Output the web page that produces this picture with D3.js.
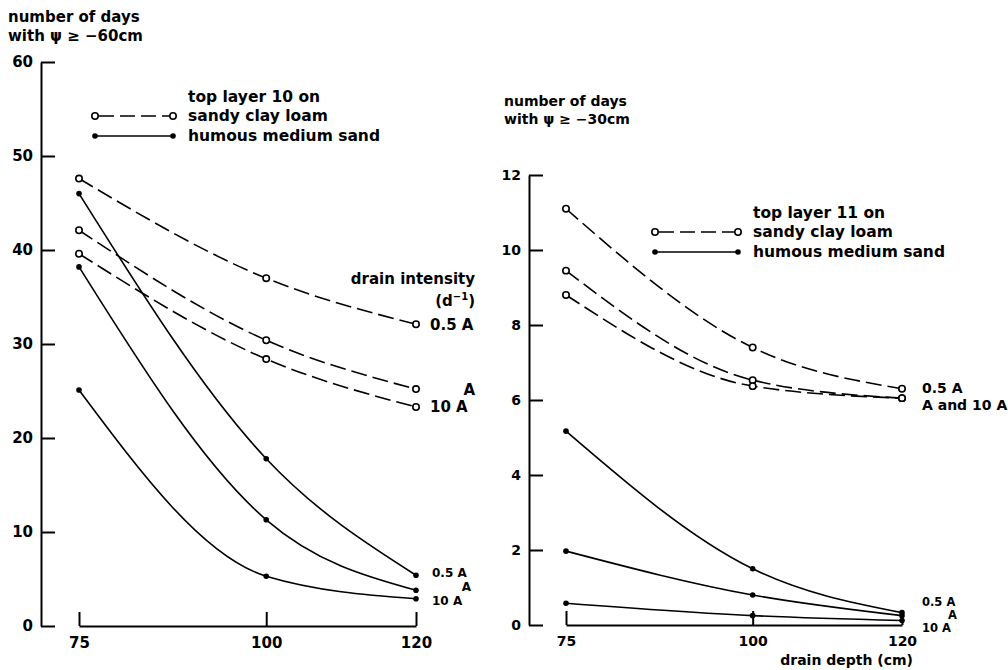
<!DOCTYPE html>
<html>
<head>
<meta charset="utf-8">
<script src="https://cdn.jsdelivr.net/npm/d3@7/dist/d3.min.js"></script>
<style>
  html, body { margin: 0; padding: 0; background: #fff; }
  svg { display: block; }
  text { font-family: "DejaVu Sans", sans-serif; font-weight: bold; fill: #000; }
</style>
</head>
<body>
<svg id="chart" width="1008" height="670"></svg>
<script>
// ---------- data ----------
const depths = [75, 100, 120];              // drain depth (cm)
const intensities = ["0.5 A", "A", "10 A"]; // drain intensity (d^-1)

// left panel: top layer 10, number of days with psi >= -60 cm
const leftClay05 = [47.6, 37.0, 32.1];
const leftClayA  = [42.1, 30.4, 25.2];
const leftClay10 = [39.6, 28.4, 23.3];
const leftSand05 = [46.0, 17.8, 5.4];
const leftSandA  = [38.2, 11.3, 3.8];
const leftSand10 = [25.1, 5.3, 2.9];
const leftYTicks = [0, 10, 20, 30, 40, 50, 60];

// right panel: top layer 11, number of days with psi >= -30 cm
const rightClay05 = [11.1, 7.4, 6.3];
const rightClayA  = [9.45, 6.53, 6.05];
const rightClay10 = [8.8, 6.37, 6.05];
const rightSand05 = [5.17, 1.5, 0.33];
const rightSandA  = [1.97, 0.8, 0.25];
const rightSand10 = [0.58, 0.25, 0.12];
const rightYTicks = [0, 2, 4, 6, 8, 10, 12];

const xTicks = [75, 100, 120];

// ---------- drawing ----------
const svg = d3.select("#chart");

function panel(opts) {
  const x = d3.scaleLinear().domain([75, 120]).range(opts.xr);
  const y = d3.scaleLinear().domain(opts.yd).range(opts.yr);
  const g = svg.append("g");

  // y axis
  const ya = g.append("g")
    .attr("transform", `translate(${opts.yAxisX},0)`)
    .call(d3.axisLeft(y).tickValues(opts.yTicks).tickSizeInner(-14).tickSizeOuter(0).tickPadding(8));
  ya.selectAll("path, line").attr("stroke", "#000").attr("stroke-width", 2);
  ya.selectAll("text").style("font-size", opts.tickFont + "px").style("font-family", "DejaVu Sans").style("font-weight", "bold");

  // x axis
  const xa = g.append("g")
    .attr("transform", `translate(0,${opts.yr[0]})`)
    .call(d3.axisBottom(x).tickValues(xTicks).tickSizeInner(-14).tickSizeOuter(0).tickPadding(11));
  xa.selectAll("path, line").attr("stroke", "#000").attr("stroke-width", 2);
  xa.selectAll("text").style("font-size", opts.tickFont + "px").style("font-family", "DejaVu Sans").style("font-weight", "bold");

  const line = d3.line().x((d, i) => x(depths[i])).y(d => y(d)).curve(d3.curveMonotoneX);

  opts.clay.forEach(s => {
    g.append("path").attr("d", line(s)).attr("fill", "none").attr("stroke", "#000")
      .attr("stroke-width", 1.6).attr("stroke-dasharray", "16,6");
    g.selectAll(null).data(s).enter().append("circle")
      .attr("cx", (d, i) => x(depths[i])).attr("cy", d => y(d)).attr("r", 3.2)
      .attr("fill", "#fff").attr("stroke", "#000").attr("stroke-width", 1.6);
  });
  opts.sand.forEach(s => {
    g.append("path").attr("d", line(s)).attr("fill", "none").attr("stroke", "#000")
      .attr("stroke-width", 1.6);
    g.selectAll(null).data(s).enter().append("circle")
      .attr("cx", (d, i) => x(depths[i])).attr("cy", d => y(d)).attr("r", 2.8)
      .attr("fill", "#000");
  });
  return { x, y, g };
}

function legend(x0, x1, yTop, title, fs) {
  const g = svg.append("g");
  const yc = yTop + 19, ys = yTop + 39;
  g.append("text").attr("x", x1 + 15).attr("y", yTop).attr("dy", "0.35em").style("font-size", fs + "px").text(title);
  g.append("line").attr("x1", x0).attr("x2", x1).attr("y1", yc).attr("y2", yc)
    .attr("stroke", "#000").attr("stroke-width", 1.6).attr("stroke-dasharray", "15,6").attr("stroke-dashoffset", -4);
  [x0, x1].forEach(cx => g.append("circle").attr("cx", cx).attr("cy", yc).attr("r", 3.2)
    .attr("fill", "#fff").attr("stroke", "#000").attr("stroke-width", 1.6));
  g.append("text").attr("x", x1 + 15).attr("y", yc).attr("dy", "0.35em").style("font-size", fs + "px").text("sandy clay loam");
  g.append("line").attr("x1", x0).attr("x2", x1).attr("y1", ys).attr("y2", ys)
    .attr("stroke", "#000").attr("stroke-width", 1.6);
  [x0, x1].forEach(cx => g.append("circle").attr("cx", cx).attr("cy", ys).attr("r", 2.8).attr("fill", "#000"));
  g.append("text").attr("x", x1 + 15).attr("y", ys).attr("dy", "0.35em").style("font-size", fs + "px").text("humous medium sand");
}

function label(x, y, t, fs, anchor) {
  svg.append("text").attr("x", x).attr("y", y).attr("dy", "0.35em")
    .attr("text-anchor", anchor || "start").style("font-size", fs + "px").text(t);
}

// left panel
panel({
  xr: [79, 416], yd: [0, 60], yr: [626, 62], yAxisX: 41, yTicks: leftYTicks, tickFont: 15,
  clay: [leftClay05, leftClayA, leftClay10],
  sand: [leftSand05, leftSandA, leftSand10]
});
// right panel
panel({
  xr: [566, 902], yd: [0, 12], yr: [625, 175], yAxisX: 529, yTicks: rightYTicks, tickFont: 14,
  clay: [rightClay05, rightClayA, rightClay10],
  sand: [rightSand05, rightSandA, rightSand10]
});

// axis titles
label(8, 17, "number of days", 15);
label(8, 36, "with ψ ≥ −60cm", 15);
label(504, 101, "number of days", 14);
label(504, 119, "with ψ ≥ −30cm", 14);
label(913, 660, "drain depth (cm)", 14, "end");

// legends
legend(95, 173, 97, "top layer 10 on", 15.5);
legend(655, 738, 213, "top layer 11 on", 15.5);

// drain intensity labels (left)
label(475, 279, "drain intensity", 15, "end");
svg.append("text").attr("x", 475).attr("y", 301).attr("dy", "0.35em").attr("text-anchor", "end")
  .style("font-size", "15px").html('(d<tspan dy="-6" font-size="10">−1</tspan><tspan dy="6">)</tspan>');
label(430, 325, intensities[0], 15);
label(475, 390, intensities[1], 15, "end");
label(430, 407, intensities[2], 15);
// stacked labels (left, lower)
label(432, 573, intensities[0], 12);
label(471, 587, intensities[1], 12, "end");
label(432, 601, intensities[2], 12);

// right panel labels
label(922, 388, intensities[0], 14);
label(922, 405, "A and 10 A", 14);
label(922, 602, intensities[0], 11.5);
label(957, 615, intensities[1], 11.5, "end");
label(922, 628, intensities[2], 11.5);
</script>
</body>
</html>
